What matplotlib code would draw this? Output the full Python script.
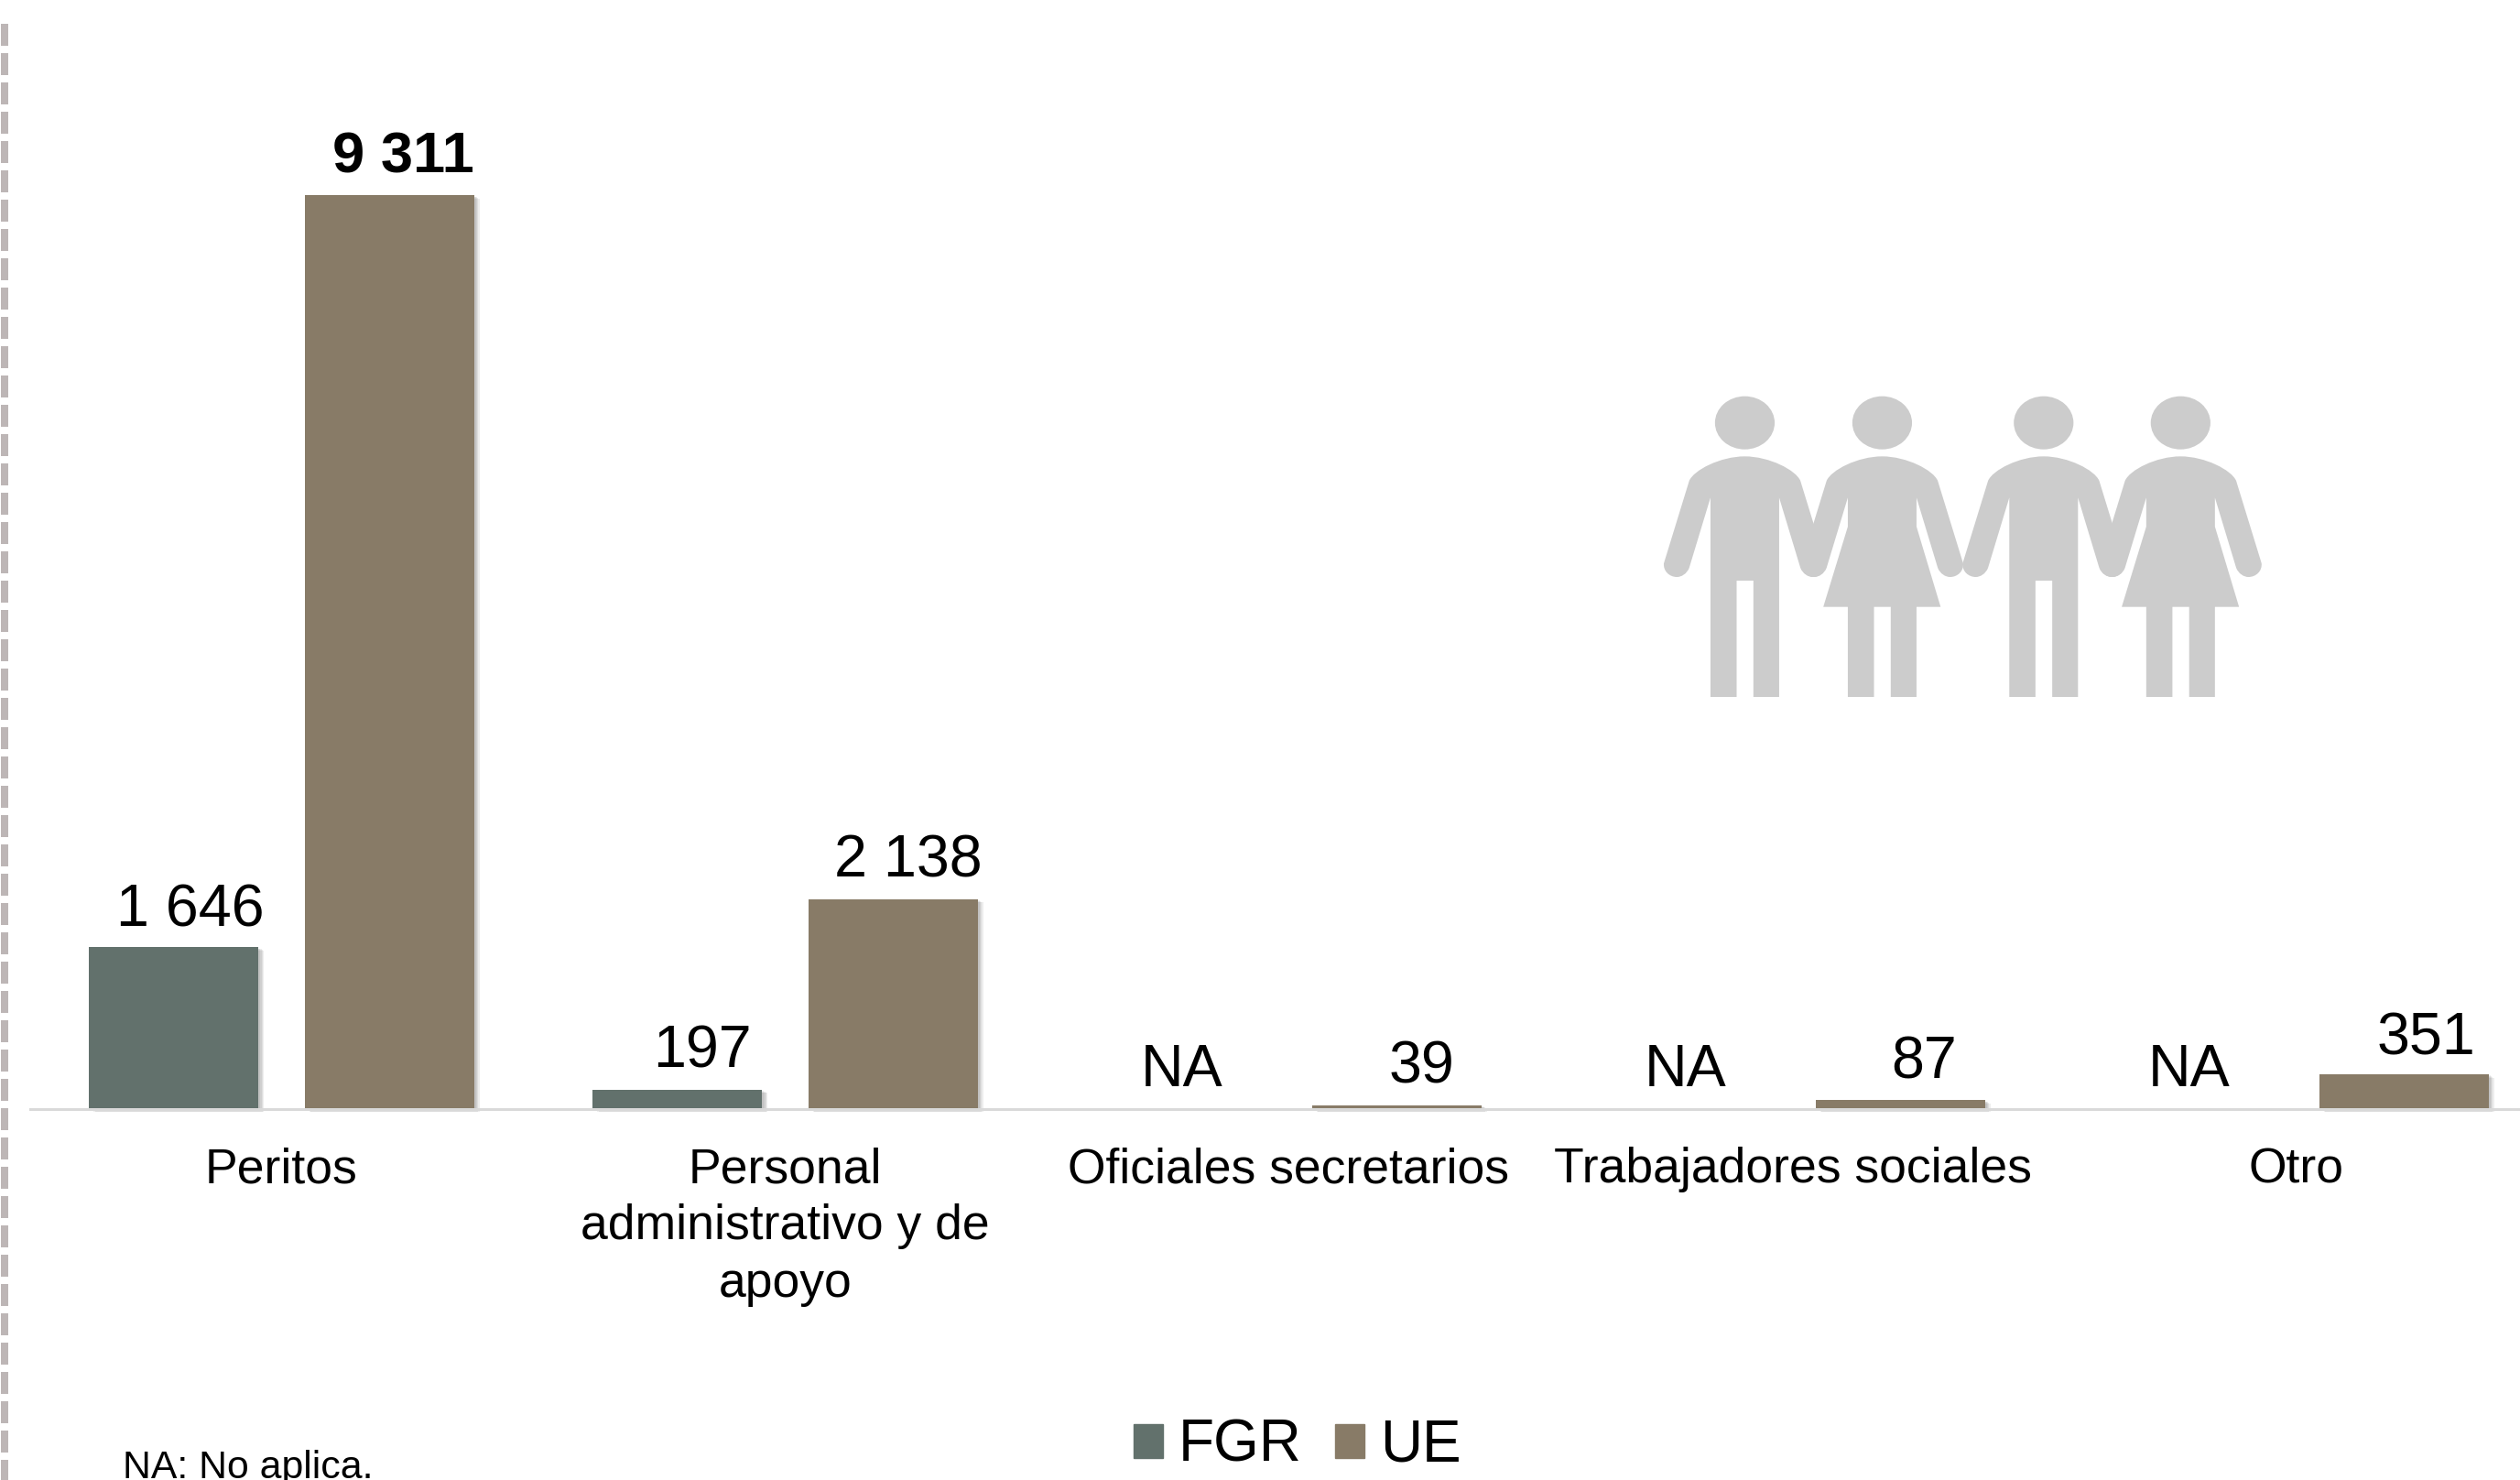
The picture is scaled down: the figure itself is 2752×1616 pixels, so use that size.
import numpy as np
import matplotlib
matplotlib.use("Agg")
import matplotlib.pyplot as plt
import matplotlib.patheffects as pe
from matplotlib.lines import Line2D
from matplotlib.patches import Ellipse, PathPatch, Patch
from matplotlib.path import Path

plt.rcParams['font.family'] = ['Liberation Sans', 'DejaVu Sans']

categorias = ["Peritos", "Personal\nadministrativo y de\napoyo", "Oficiales secretarios",
              "Trabajadores sociales", "Otro"]
fgr = [1646, 197, np.nan, np.nan, np.nan]
ue = [9311, 2138, 39, 87, 351]
series = ["FGR", "UE"]

COL_FGR = "#62716C"
COL_UE = "#887B67"
COL_ICON = "#CCCCCC"

W, H = 2752, 1616
DPI = 100
px = 72 / DPI  # pixel -> punto

# corrimiento de las etiquetas respecto a la barra (pixeles)
shift_fgr = [(18, 23), (27, 24), (1, 25), (1, 25), (1, 25)]
shift_ue = [(15, 25), (17, 24), (27, 24), (26, 24), (24, 22)]

fig = plt.figure(figsize=(W / DPI, H / DPI), dpi=DPI, facecolor="white")
base_y = 1210.7
left = 32.5
ax = fig.add_axes([left / W, 1 - base_y / H, (W - left) / W, base_y / H])
ax.patch.set_alpha(0)
ax.set_xlim(-0.5, (W - left) / 550 - 0.5)
ax.set_ylim(0, base_y / 0.10712)

x = np.arange(len(categorias))
sombra = [pe.SimplePatchShadow(offset=(o, -o * 0.6), shadow_rgbFace="#555555", alpha=0.10)
          for o in (1.5, 2.5, 3.5, 4.5)] + [pe.Normal()]

b1 = ax.bar(x - 0.214, fgr, 0.336, color=COL_FGR, clip_on=False)
b2 = ax.bar(x + 0.214, ue, 0.336, color=COL_UE, clip_on=False)
for b in list(b1) + list(b2):
    b.set_path_effects(sombra)


def etiqueta(xc, v, shift, **kw):
    if np.isnan(v):
        txt, v = "NA", 0
    else:
        txt = f"{int(v):,}".replace(",", " ")
    ax.annotate(txt, (xc, v), xytext=(shift[0] * px, shift[1] * px), textcoords="offset points",
                ha="center", va="baseline", color="black", **kw)


for i in range(len(categorias)):
    etiqueta(x[i] - 0.214, fgr[i], shift_fgr[i], fontsize=46.5)
    if i == 0:
        etiqueta(x[i] + 0.214, ue[i], shift_ue[i], fontsize=45.5, fontweight="bold")
    else:
        etiqueta(x[i] + 0.214, ue[i], shift_ue[i], fontsize=46.5)

for s in ["top", "left", "right"]:
    ax.spines[s].set_visible(False)
ax.spines["bottom"].set_color("#D9D9D9")
ax.spines["bottom"].set_linewidth(3 * px)
ax.set_yticks([])
ax.set_xticks(x)
ax.set_xticklabels(categorias, fontsize=38.5, linespacing=1.31)
ax.tick_params(axis="x", length=0, pad=30)

handles = [Patch(color=COL_FGR), Patch(color=COL_UE)]
fig.legend(handles=handles, labels=series, loc="lower left", ncol=2, frameon=False,
           bbox_to_anchor=(1238 / W, 1 - 1609 / H), borderaxespad=0, borderpad=0,
           fontsize=46, handlelength=0.5, handleheight=0.5, handletextpad=0.26,
           columnspacing=0.58)

fig.text(134 / W, 1 - 1614 / H, "NA: No aplica.", fontsize=30.8, ha="left", va="baseline")

# capa en pixeles para la linea punteada y el icono
over = fig.add_axes([0, 0, 1, 1], zorder=-1)
over.set_xlim(0, W)
over.set_ylim(H, 0)
over.axis("off")
over.add_line(Line2D([5, 5], [26, H], lw=8 * px, color="#BDB6B6",
                     dash_capstyle="butt", linestyle=(0, (3, 1))))

M, L, C = Path.MOVETO, Path.LINETO, Path.CURVE4

# de la axila izquierda a la derecha, pasando por hombros y manos
HOMBROS = [(L, (-84, 430)), (L, (-136, 660)), (C, (-142, 680)), (C, (-155, 690)), (C, (-166, 690)),
           (C, (-185, 690)), (C, (-200, 670)), (C, (-198, 645)), (L, (-136, 375)),
           (C, (-125, 340)), (C, (-60, 295)), (C, (0, 295)), (C, (60, 295)), (C, (125, 340)), (C, (136, 375)),
           (L, (198, 645)), (C, (200, 670)), (C, (185, 690)), (C, (166, 690)),
           (C, (155, 690)), (C, (142, 680)), (C, (136, 660)), (L, (84, 430))]
HOMBRE = [(L, (84, 1083)), (L, (21, 1083)), (L, (21, 702)), (L, (-20, 702)), (L, (-20, 1083)),
          (L, (-84, 1083))]
MUJER = [(L, (84, 525)), (L, (143, 788)), (L, (84, 788)), (L, (84, 1083)), (L, (21, 1083)), (L, (21, 788)),
         (L, (-20, 788)), (L, (-20, 1083)), (L, (-84, 1083)), (L, (-84, 788)), (L, (-144, 788)),
         (L, (-84, 525))]


def figura(c, cuerpo, inicio):
    pts = [(M, inicio)] + HOMBROS + cuerpo
    codes = [p[0] for p in pts]
    verts = [(1780 + (c + p[1][0]) / 2.24, 400 + p[1][1] / 3) for p in pts]
    over.add_patch(PathPatch(Path(verts, codes), fc=COL_ICON, ec="none"))
    over.add_patch(Ellipse((1780 + c / 2.24, 400 + 185 / 3), 146 / 2.24, 174 / 3, fc=COL_ICON, ec="none"))


figura(281, HOMBRE, (-84, 1083))
figura(617, MUJER, (-84, 525))
figura(1012, HOMBRE, (-84, 1083))
figura(1347, MUJER, (-84, 525))

fig.savefig("out.png", dpi=DPI)
